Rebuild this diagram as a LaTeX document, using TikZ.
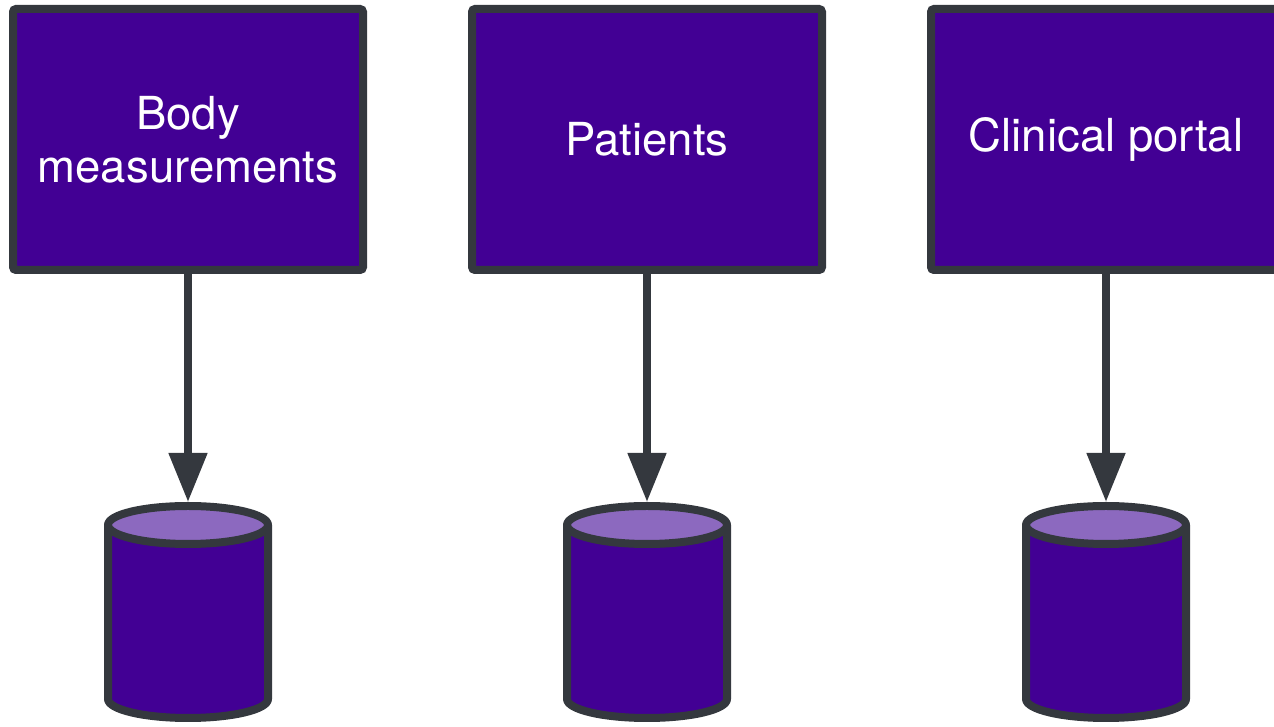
\documentclass[tikz,border=0pt]{standalone}
\usepackage{fontspec}
\setmainfont{TeX Gyre Heros}
\usetikzlibrary{arrows.meta}
\definecolor{boxfill}{HTML}{420094}
\definecolor{edge}{HTML}{34383E}
\definecolor{topfill}{HTML}{8C69BF}
\begin{document}
\begin{tikzpicture}[x=1pt,y=1pt,
  srcbox/.style={draw=edge, line width=8pt, fill=boxfill, rounded corners=3pt,
    minimum width=350pt, minimum height=261pt, text=white,
    font=\fontsize{45.5}{53}\selectfont, align=center, inner sep=0pt},
  dbspan/.style={minimum width=168pt, minimum height=220pt, inner sep=0pt, outer sep=0pt},
  dbline/.style={draw=edge, line width=8pt, line join=round},
  flow/.style={draw=edge, line width=8pt, -{Triangle[length=49pt,width=37pt]}}]
\useasboundingbox (0,0) rectangle (1274,727);
\foreach \i/\cx/\txt in {1/188/{Body\\measurements}, 2/647/{Patients}, 3/1106/{Clinical portal}}{
  \node[srcbox] (b\i) at (\cx,587.5) {\txt};
  \node[dbspan] (d\i) at (\cx,115) {};
  \fill[boxfill] (\cx-80,202) -- (\cx-80,28) arc[start angle=180,end angle=360,x radius=80,y radius=19] -- (\cx+80,202) -- cycle;
  \draw[dbline, fill=topfill] (\cx,202) ellipse[x radius=80, y radius=19];
  \draw[dbline] (\cx-80,202) -- (\cx-80,28) arc[start angle=180,end angle=360,x radius=80,y radius=19] -- (\cx+80,202);
  \draw[flow] (b\i) -- (d\i);
}
\end{tikzpicture}
\end{document}
